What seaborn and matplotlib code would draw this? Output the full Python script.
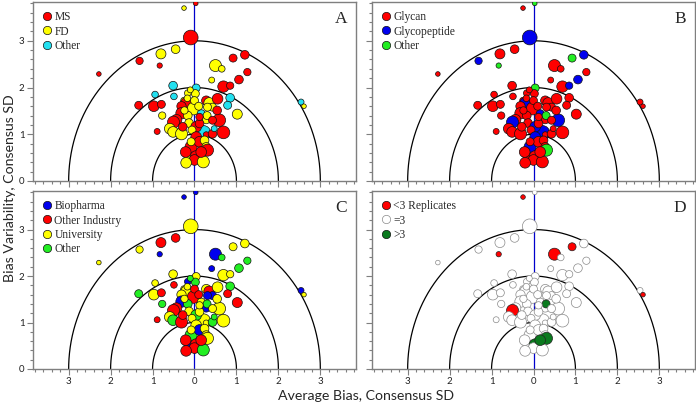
import numpy as np
import pandas as pd
import matplotlib
matplotlib.use("Agg")
import matplotlib.pyplot as plt
import seaborn as sns
from matplotlib.lines import Line2D
from matplotlib.ticker import MultipleLocator, FuncFormatter

# ── data: one entry per lab ─────────────────────────────────
bias = [0.03, -0.25, -0.09, -2.28, -1.31, -0.80, -0.83, -0.45, 0.50, 0.65,
        0.92, 1.20, 1.26, 1.06, 0.41, 2.54, 2.61, -1.33, -0.94, -0.51,
        -0.49, 0.04, -0.97, -0.79, -0.77, -0.89, 0.69, 0.85, 0.85, 0.79,
        1.02, 0.59, 0.69, 0.21, 0.28, -0.16, 0.02, -0.25, -0.20, -0.31,
        -0.02, 0.00, 0.28, 0.35, 0.55, 0.43, 0.31, 0.16, 0.28, 0.30,
        -0.31, -0.43, -0.50, -0.59, -0.51, -0.31, -0.16, -0.13, -0.28, 0.04,
        0.12, -0.06, 0.04, -0.08, 0.12, 0.24, 0.28, 0.31, -0.16, -0.21,
        0.04, 0.00, -0.20, 0.21, 0.16, 0.43, 0.47, 0.43, 0.12, -0.24,
        -0.08, -0.17, 0.54, -0.10, 0.10]
variability = [3.80, 3.70, 3.07, 2.29, 2.57, 2.72, 2.47, 2.82, 2.47, 2.40,
               2.63, 2.70, 2.33, 2.17, 2.16, 1.69, 1.60, 1.62, 1.85, 2.04,
               1.81, 1.99, 1.60, 1.64, 1.40, 1.06, 2.02, 2.04, 1.78, 1.62,
               1.43, 1.30, 1.04, 1.03, 0.99, 1.88, 1.87, 1.72, 1.67, 1.60,
               1.55, 1.72, 1.72, 1.67, 1.76, 1.58, 1.58, 1.44, 1.31, 1.40,
               1.45, 1.31, 1.26, 1.12, 1.05, 1.01, 1.40, 1.24, 1.16, 1.16,
               1.23, 1.09, 0.94, 0.73, 0.84, 0.87, 0.73, 0.66, 0.55, 0.62,
               0.52, 0.45, 0.39, 0.41, 0.62, 1.01, 1.12, 1.30, 1.37, 1.51,
               0.84, 1.77, 1.51, 1.95, 1.60]
weight = [7, 7, 23, 7, 11, 15, 8, 13, 18, 10,
          12, 13, 11, 13, 9, 9, 6, 12, 10, 13,
          10, 12, 16, 12, 11, 9, 17, 11, 13, 12,
          15, 19, 19, 24, 9, 10, 12, 10, 16, 14,
          19, 12, 14, 16, 16, 12, 12, 12, 12, 12,
          17, 16, 18, 16, 16, 18, 13, 13, 13, 16,
          13, 12, 16, 18, 16, 13, 13, 18, 13, 16,
          18, 16, 16, 18, 16, 13, 9, 12, 11, 11,
          12, 10, 13, 9, 12]
# panel A: method  (M=MS, F=FD, O=Other)
method = list("MFMMMFMFFF" "MMMMFOFMOO" "OOMMFMMMOO" "FMMOMFFFMM"
              "FFMFMFFOFF" "MMMFFFFFMM" "MFMMMFFMFM" "MMFFMMOMMF" "FFMFF")
# panel B: analyte (G=Glycan, P=Glycopeptide, O=Other)
analyte = list("OGPGPGOGGG" "OPGPGGGGGG" "GOGGGGGPGG" "GPGPGGGGPG"
               "GGGGGGGPGO" "GGPGGGGGGP" "GGPPGGGOGG" "GGGGGGGGGG" "GGGGG")
# panel C: organisation (B=Biopharma, I=Other Industry, U=University, O=Other)
org = list("BBUUUIBIBO" "UUOOBBUOUU" "IUUIOIUUOI" "IUUUUBOUUU"
           "IIUIUBBUBO" "BIIUOIOUIO" "UUUOBUUUBI" "IIIOIOOUUU" "UUUOI")
# panel D: replicates (L=<3, E==3, G=>3)
reps = list("ELEEEELELE" "LEEEEELEEE" "EEEEEEEEEE" "EEEEEEEEEE"
            "EEEEEEEEEG" "EELEEEEEEE" "EEEEEEEGEE" "GEEEGEEEEE" "EEEEE")

panels = [
    ("A", "method", ["M", "F", "O"], ["MS", "FD", "Other"],
     ["#ff0000", "#ffff00", "#22e0f0"]),
    ("B", "analyte", ["G", "P", "O"], ["Glycan", "Glycopeptide", "Other"],
     ["#ff0000", "#0000ee", "#22ee22"]),
    ("C", "org", ["B", "I", "U", "O"],
     ["Biopharma", "Other Industry", "University", "Other"],
     ["#0000ee", "#ff0000", "#ffff00", "#22ee22"]),
    ("D", "reps", ["L", "E", "G"], ["<3 Replicates", "=3", ">3"],
     ["#ff0000", "#ffffff", "#0a7a1e"]),
]

df = pd.DataFrame({"bias": bias, "var": variability, "w": weight,
                   "method": method, "analyte": analyte, "org": org, "reps": reps})
df["area"] = df["w"] ** 2

sns.set_style("white")
plt.rcParams["font.family"] = ["Lato", "DejaVu Sans"]

fig = plt.figure(figsize=(6.96, 4.04), dpi=100)
W, H = 696, 404
boxes = [(33, 2, 356, 181), (372, 2, 695, 181), (33, 191, 356, 369), (372, 191, 695, 369)]

theta = np.linspace(0, np.pi, 300)
frame_col = "#7f7f7f"

for i, (letter, col, codes, labels, colors) in enumerate(panels):
    l, t, r, b = boxes[i]
    ax = fig.add_axes([l / W, 1 - b / H, (r - l) / W, (b - t) / H])

    # guide semicircles and zero line
    for rad in (1, 2, 3):
        ax.plot(rad * np.cos(theta), rad * np.sin(theta), color="black", lw=0.9, zorder=1)
    ax.axvline(0, color="#0000cc", lw=0.9, zorder=1)

    pal = dict(zip(codes, colors))
    edges = "#111111"
    if col == "reps":
        edges = df["reps"].map({"L": "#222222", "E": "#8a8a8a", "G": "#222222"}).tolist()
    sns.scatterplot(data=df, x="bias", y="var", hue=col, palette=pal,
                    size="area", sizes=(11, 112), size_norm=(49, 484),
                    edgecolor=edges, linewidth=0.5, legend=False, ax=ax, zorder=3)

    ax.set_xlim(-3.85, 3.85)
    ax.set_ylim(0, 3.83)
    ax.set_xlabel("")
    ax.set_ylabel("")
    ax.xaxis.set_major_locator(MultipleLocator(1))
    ax.xaxis.set_minor_locator(MultipleLocator(0.2))
    ax.yaxis.set_major_locator(MultipleLocator(1))
    ax.yaxis.set_minor_locator(MultipleLocator(0.2))
    ax.xaxis.set_major_formatter(FuncFormatter(lambda v, p: f"{abs(v):.0f}"))
    ax.tick_params(which="both", direction="out", color=frame_col, width=0.8,
                   bottom=True, left=True, top=False, right=False,
                   labelsize=7, labelcolor="#222222", pad=2)
    ax.tick_params(which="major", length=4)
    ax.tick_params(which="minor", length=2.2)
    if i < 2:
        ax.tick_params(axis="x", labelbottom=False)
    if i % 2 == 1:
        ax.tick_params(axis="y", labelleft=False)
    for sp in ax.spines.values():
        sp.set_color(frame_col)
        sp.set_linewidth(1.0)

    handles = []
    for c, lab in zip(codes, labels):
        ec = "#8a8a8a" if (col == "reps" and c == "E") else "#111111"
        handles.append(Line2D([], [], marker="o", ls="", markersize=6,
                              markerfacecolor=pal[c], markeredgecolor=ec,
                              markeredgewidth=0.5, label=lab))
    ax.legend(handles=handles, loc="upper left", frameon=False,
              prop={"family": "Liberation Serif", "size": 8.3},
              handlelength=0.8, handletextpad=0.25, labelspacing=0.2,
              borderaxespad=0.5, borderpad=0.3)
    ax.text(0.953, 0.905, letter, transform=ax.transAxes, ha="center", va="center",
            fontsize=12.5, family="Liberation Serif")

fig.text(10 / W, 1 - 188 / H, "Bias Variability, Consensus SD", rotation=90,
         ha="center", va="center", fontsize=10.2)
fig.text(366 / W, 1 - 396 / H, "Average Bias, Consensus SD",
         ha="center", va="center", fontsize=10.2)

fig.savefig("out.png", dpi=100)
